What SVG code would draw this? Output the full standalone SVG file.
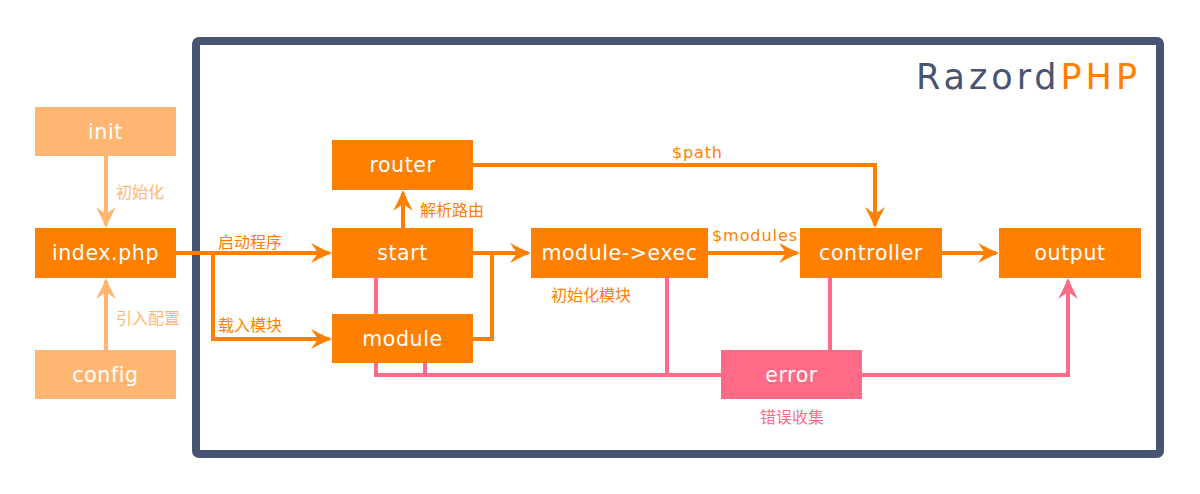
<svg xmlns="http://www.w3.org/2000/svg" width="1200" height="494" viewBox="0 0 1200 494">
<defs>
<style>
.lbl{font-family:"DejaVu Sans","Liberation Sans",sans-serif;font-size:20.5px;fill:#ffffff;text-anchor:middle;letter-spacing:0.6px}
.cn{font-family:"Noto Sans CJK SC","Noto Sans",sans-serif;font-size:16px}
.en{font-family:"DejaVu Sans","Liberation Sans",sans-serif;font-size:16px}
.o{fill:#FF8000}.lo{fill:#FFB672}.pk{fill:#FF6B87}
.co{fill:none;stroke:#FF8000;stroke-width:4}
.cl{fill:none;stroke:#FFB672;stroke-width:4}
.cp{fill:none;stroke:#FF6B87;stroke-width:4}
</style>
<marker id="ao" viewBox="0 0 22 20" refX="19" refY="10" markerWidth="22" markerHeight="20" markerUnits="userSpaceOnUse" orient="auto"><path d="M22,10 Q12,6 1,0 L8,10 L1,20 Q12,14 22,10 Z" fill="#FF8000"/></marker>
<marker id="al" viewBox="0 0 22 20" refX="19" refY="10" markerWidth="22" markerHeight="20" markerUnits="userSpaceOnUse" orient="auto"><path d="M22,10 Q12,6 1,0 L8,10 L1,20 Q12,14 22,10 Z" fill="#FFB672"/></marker>
<marker id="ap" viewBox="0 0 22 20" refX="19" refY="10" markerWidth="22" markerHeight="20" markerUnits="userSpaceOnUse" orient="auto"><path d="M22,10 Q12,6 1,0 L8,10 L1,20 Q12,14 22,10 Z" fill="#FF6B87"/></marker>
</defs>
<rect width="1200" height="494" fill="#ffffff"/>
<g id="frame">
<rect x="196" y="41" width="964" height="413" rx="3" fill="#ffffff" stroke="#475573" stroke-width="8"/>
<text x="916" y="89" font-family="DejaVu Sans, sans-serif" font-size="35" textLength="221" lengthAdjust="spacing"><tspan fill="#475573">Razord</tspan><tspan fill="#FF8000">PHP</tspan></text>
</g>
<g id="connectors">
<path class="cl" d="M106,156 V225" marker-end="url(#al)"/>
<path class="cl" d="M106,350 V281" marker-end="url(#al)"/>
<path class="co" d="M176,253 H329" marker-end="url(#ao)"/>
<path class="co" d="M213,253 V339 H329" marker-end="url(#ao)"/>
<path class="co" d="M403,228 V193" marker-end="url(#ao)"/>
<path class="co" d="M473,253 H528" marker-end="url(#ao)"/>
<path class="co" d="M473,339 H492 V253"/>
<path class="co" d="M473,165 H875 V225" marker-end="url(#ao)"/>
<path class="co" d="M708,253 H797" marker-end="url(#ao)"/>
<path class="co" d="M942,253 H996" marker-end="url(#ao)"/>
<path class="cp" d="M376,278 V375 H721"/>
<path class="cp" d="M425,363 V375"/>
<path class="cp" d="M667,278 V375"/>
<path class="cp" d="M830,278 V350"/>
<path class="cp" d="M862,375 H1068 V281" marker-end="url(#ap)"/>
<text class="cn lo" x="116" y="198">初始化</text>
<text class="cn lo" x="116" y="324">引入配置</text>
<text class="cn o" x="218" y="248">启动程序</text>
<text class="cn o" x="218" y="331">载入模块</text>
<text class="cn o" x="420" y="216">解析路由</text>
<text class="cn o" x="551" y="301">初始化模块</text>
<text class="cn pk" x="760" y="423">错误收集</text>
<text class="en o" x="672" y="158" textLength="50" lengthAdjust="spacing">$path</text>
<text class="en o" x="712" y="241" textLength="85" lengthAdjust="spacing">$modules</text>
</g>
<g id="init"><rect x="35" y="107" width="141" height="49" class="lo"/><text class="lbl" x="105.5" y="139">init</text></g>
<g id="index"><rect x="35" y="228" width="141" height="50" class="o"/><text class="lbl" x="105.5" y="260">index.php</text></g>
<g id="config"><rect x="35" y="350" width="141" height="49" class="lo"/><text class="lbl" x="105.5" y="382">config</text></g>
<g id="router"><rect x="332" y="140" width="141" height="50" class="o"/><text class="lbl" x="402.5" y="172">router</text></g>
<g id="start"><rect x="332" y="228" width="141" height="50" class="o"/><text class="lbl" x="402.5" y="260">start</text></g>
<g id="module"><rect x="332" y="314" width="141" height="49" class="o"/><text class="lbl" x="402.5" y="346">module</text></g>
<g id="moduleexec"><rect x="531" y="228" width="177" height="50" class="o"/><text class="lbl" x="619.5" y="260">module-&gt;exec</text></g>
<g id="controller"><rect x="800" y="228" width="142" height="50" class="o"/><text class="lbl" x="871" y="260">controller</text></g>
<g id="output"><rect x="999" y="228" width="142" height="50" class="o"/><text class="lbl" x="1070" y="260">output</text></g>
<g id="error"><rect x="721" y="350" width="141" height="49" class="pk"/><text class="lbl" x="791.5" y="382">error</text></g>
</svg>
